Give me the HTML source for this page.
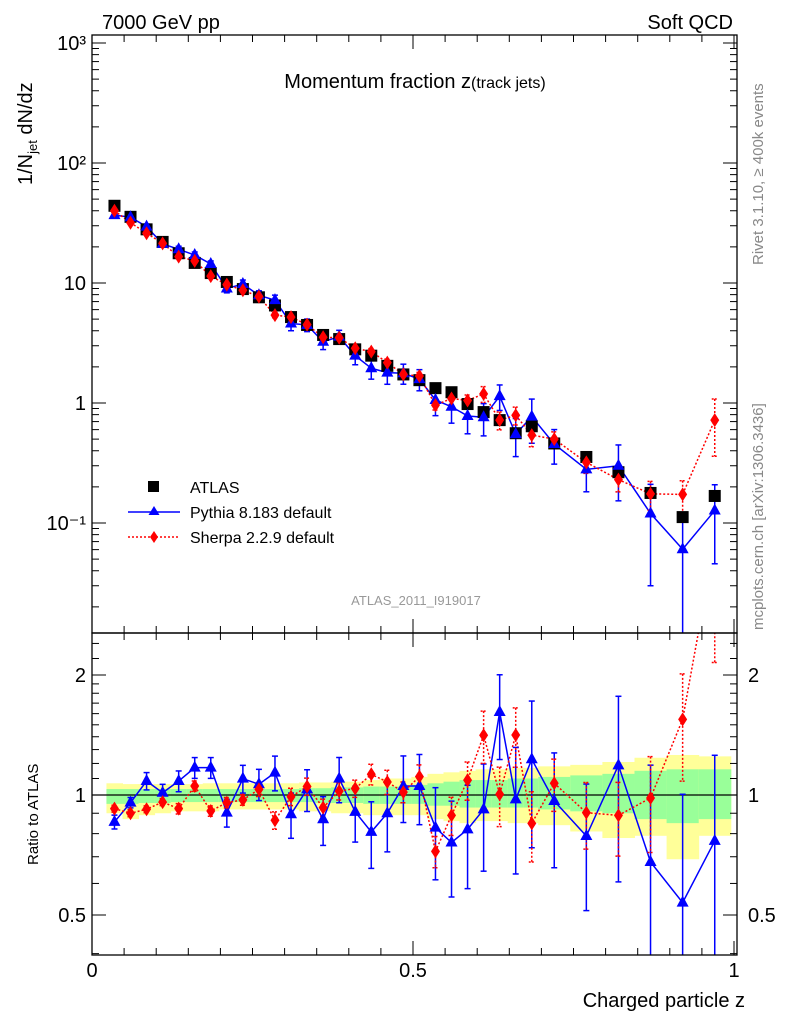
<!DOCTYPE html>
<html><head><meta charset="utf-8"><style>
html,body{margin:0;padding:0;background:#fff;width:786px;height:1024px;overflow:hidden;}
svg{display:block;font-family:"Liberation Sans","DejaVu Sans",sans-serif;}
</style></head><body>
<svg id="c" width="786" height="1024" xmlns="http://www.w3.org/2000/svg">
<defs>
<clipPath id="cm"><rect x="92" y="35" width="645" height="598"/></clipPath>
<clipPath id="cr"><rect x="92" y="633" width="645" height="322"/></clipPath>
</defs>
<g id="bands" clip-path="url(#cr)"></g>
<g id="grid"></g>
<g id="mainMarks" clip-path="url(#cm)"></g>
<g id="ratioMarks" clip-path="url(#cr)"></g>
<rect x="92" y="35" width="645" height="598" fill="none" stroke="#000" stroke-width="1.3"/>
<rect x="92" y="633" width="645" height="322" fill="none" stroke="#000" stroke-width="1.3"/>
<text x="102" y="29" font-size="20">7000 GeV pp</text>
<text x="733" y="29" font-size="20" text-anchor="end">Soft QCD</text>
<text x="415" y="88" font-size="20" text-anchor="middle">Momentum fraction z<tspan font-size="16">(track jets)</tspan></text>
<text transform="translate(32,185) rotate(-90)" font-size="20">1/N<tspan font-size="13" dy="5">jet</tspan><tspan dy="-5"> dN/dz</tspan></text>
<text transform="translate(763,265) rotate(-90)" font-size="15" fill="#888">Rivet 3.1.10, ≥ 400k events</text>
<text transform="translate(763,630) rotate(-90)" font-size="15" fill="#888">mcplots.cern.ch [arXiv:1306.3436]</text>
<text x="416" y="605" font-size="13" fill="#999" text-anchor="middle">ATLAS_2011_I919017</text>
<text transform="translate(38,865) rotate(-90)" font-size="15">Ratio to ATLAS</text>
<text x="745" y="1007" font-size="20" text-anchor="end">Charged particle z</text>
<g>
<rect x="148" y="481" width="11" height="11" fill="#000"/>
<text x="190" y="493" font-size="16">ATLAS</text>
<line x1="128" y1="512" x2="180" y2="512" stroke="#0000ff" stroke-width="1.5"/>
<polygon points="154,506 159.5,515 148.5,515" fill="#0000ff"/>
<text x="190" y="518" font-size="16">Pythia 8.183 default</text>
<line x1="128" y1="537" x2="180" y2="537" stroke="#ff0000" stroke-width="1.5" stroke-dasharray="2,2"/>
<polygon points="154,531 158,537 154,543 150,537" fill="#ff0000"/>
<text x="190" y="543" font-size="16">Sherpa 2.2.9 default</text>
</g>
</svg>
<script>
const zCenters=[0.035,0.06,0.085,0.11,0.135,0.16,0.185,0.21,0.235,0.26,0.285,0.31,0.335,0.36,0.385,0.41,0.435,0.46,0.485,0.51,0.535,0.56,0.585,0.61,0.635,0.66,0.685,0.72,0.77,0.82,0.87,0.92,0.97];
const binHalf=[0.0125,0.0125,0.0125,0.0125,0.0125,0.0125,0.0125,0.0125,0.0125,0.0125,0.0125,0.0125,0.0125,0.0125,0.0125,0.0125,0.0125,0.0125,0.0125,0.0125,0.0125,0.0125,0.0125,0.0125,0.0125,0.0125,0.0125,0.025,0.025,0.025,0.025,0.025,0.025];
const atlasVals=[44,35.6,28,22,17.7,14.7,12.1,10.2,8.9,7.6,6.5,5.2,4.47,3.69,3.41,2.8,2.48,2.04,1.73,1.55,1.33,1.23,0.98,0.84,0.72,0.56,0.64,0.46,0.355,0.265,0.178,0.112,0.168];
const pythiaVals=[36.8,35.3,29.5,21.2,19.1,17.1,14.4,9.0,9.8,7.9,7.2,4.6,4.47,3.24,3.57,2.48,1.95,1.79,1.77,1.58,1.06,0.93,0.78,0.76,1.14,0.55,0.77,0.455,0.28,0.30,0.12,0.0605,0.127];
const sherpaVals=[40,31.8,26,21.4,16.6,15.3,11.4,9.7,8.7,7.7,5.4,5.2,4.5,3.53,3.5,2.86,2.68,2.17,1.73,1.68,0.96,1.09,1.05,1.19,0.72,0.79,0.54,0.50,0.32,0.23,0.175,0.173,0.72];
const pythiaRatio=[0.856,0.957,1.084,1.013,1.084,1.171,1.171,0.903,1.099,1.064,1.138,0.895,1.033,0.869,1.099,0.907,0.808,0.9,1.053,1.053,0.828,0.76,0.82,0.92,1.615,0.975,1.229,0.966,0.789,1.187,0.679,0.537,0.767];
const pythiaErr=[0.04,0.03,0.05,0.05,0.06,0.06,0.06,0.08,0.08,0.09,0.1,0.13,0.12,0.14,0.13,0.16,0.19,0.2,0.19,0.2,0.26,0.27,0.29,0.3,0.24,0.35,0.4,0.32,0.35,0.49,0.75,0.87,0.64];
const sherpaRatio=[0.924,0.9,0.921,0.96,0.924,1.053,0.912,0.957,0.972,1.033,0.864,0.99,1.05,0.93,1.023,1.038,1.127,1.078,1.017,1.112,0.722,0.889,1.09,1.412,1.004,1.414,0.849,1.07,0.903,0.889,0.983,1.548,4.3];
const sherpaErr=[0.02,0.02,0.02,0.02,0.03,0.03,0.03,0.03,0.03,0.04,0.05,0.05,0.05,0.05,0.05,0.05,0.06,0.07,0.06,0.07,0.09,0.11,0.11,0.15,0.17,0.17,0.2,0.15,0.19,0.21,0.27,0.3,0.5];
const greenHi=[1.035,1.035,1.035,1.035,1.035,1.035,1.035,1.035,1.035,1.035,1.035,1.035,1.04,1.04,1.045,1.045,1.05,1.05,1.05,1.06,1.07,1.08,1.09,1.09,1.09,1.1,1.1,1.11,1.12,1.13,1.15,1.16,1.16];
const greenLo=[0.95,0.95,0.955,0.955,0.96,0.96,0.96,0.96,0.96,0.96,0.96,0.96,0.96,0.955,0.955,0.955,0.95,0.95,0.95,0.95,0.94,0.94,0.93,0.93,0.93,0.93,0.93,0.92,0.91,0.9,0.87,0.85,0.87];
const yellowHi=[1.07,1.065,1.065,1.065,1.065,1.065,1.07,1.07,1.07,1.07,1.07,1.07,1.075,1.075,1.08,1.08,1.09,1.1,1.1,1.11,1.13,1.14,1.15,1.16,1.16,1.17,1.17,1.18,1.19,1.21,1.24,1.26,1.25];
const yellowLo=[0.9,0.87,0.89,0.9,0.91,0.91,0.91,0.92,0.92,0.92,0.92,0.92,0.91,0.91,0.9,0.9,0.89,0.89,0.89,0.89,0.87,0.86,0.85,0.86,0.86,0.85,0.85,0.84,0.81,0.78,0.79,0.69,0.79];
const mainTickVals=[1000,100,10,1,0.1];
const mainTickLabels=["10³","10²","10","1","10⁻¹"];
const ratioTickVals=[2,1,0.5];
const ratioTickLabels=["2","1","0.5"];
const xTickVals=[0,0.5,1];
const xTickLabels=["0","0.5","1"];

const NS="http://www.w3.org/2000/svg";
const X=z=>92+z*642;
const Ym=v=>403-120*Math.log10(v);
const Yr=r=>795-120*Math.log2(r);
function mk(parent,tag,attrs){const e=document.createElementNS(NS,tag);for(const k in attrs)e.setAttribute(k,attrs[k]);parent.appendChild(e);return e;}
const grid=document.getElementById('grid');
const bands=document.getElementById('bands');
const mm=document.getElementById('mainMarks');
const rm=document.getElementById('ratioMarks');

for(let i=0;i<zCenters.length;i++){
  const x0=X(zCenters[i]-binHalf[i]),x1=X(zCenters[i]+binHalf[i]);
  const y=mk(bands,'rect',{x:x0,y:Yr(yellowHi[i]),width:x1-x0+0.5,height:Yr(yellowLo[i])-Yr(yellowHi[i]),fill:'#ffff99'});
  
  
  const g=mk(bands,'rect',{x:x0,y:Yr(greenHi[i]),width:x1-x0+0.5,height:Yr(greenLo[i])-Yr(greenHi[i]),fill:'#99ff99'});
  
  
}
const one=mk(grid,'line',{x1:92,x2:737,y1:Yr(1),y2:Yr(1),stroke:'#000','stroke-width':1.2});



for(let d=-2;d<=3;d++){
  for(let m=1;m<10;m++){
    const v=m*Math.pow(10,d);const y=Ym(v);
    if(y<35||y>633)continue;
    const L=m===1?14:7;
    mk(grid,'line',{x1:92,x2:92+L,y1:y,y2:y,stroke:'#000'});
    mk(grid,'line',{x1:737-L,x2:737,y1:y,y2:y,stroke:'#000'});
  }
}
mainTickVals.forEach((v,i)=>{
  const t=mk(grid,'text',{x:86,y:Ym(v)+7,'font-size':20,'text-anchor':'end'});
  t.textContent=mainTickLabels[i];
  
  
});
for(let r=0.4;r<=2.6;r+=0.1){
  const rr=Math.round(r*10)/10;const y=Yr(rr);
  if(y<633||y>955)continue;
  const major=(rr===0.5||rr===1||rr===2);
  const L=major?14:7;
  if(rr>2 && Math.round(rr*10)%2!==0)continue;
  mk(grid,'line',{x1:92,x2:92+L,y1:y,y2:y,stroke:'#000'});
  mk(grid,'line',{x1:737-L,x2:737,y1:y,y2:y,stroke:'#000'});
}
ratioTickVals.forEach((v,i)=>{
  const t=mk(grid,'text',{x:86,y:Yr(v)+7,'font-size':20,'text-anchor':'end'});
  t.textContent=ratioTickLabels[i];
  
  
  const t2=mk(grid,'text',{x:748,y:Yr(v)+7,'font-size':20});
  t2.textContent=ratioTickLabels[i];
  
  
});
for(let k=0;k<=20;k++){
  const z=k*0.05,x=X(z),L=(k%10===0)?14:7;
  mk(grid,'line',{x1:x,x2:x,y1:633,y2:633-L,stroke:'#000'});
  mk(grid,'line',{x1:x,x2:x,y1:35,y2:35+L,stroke:'#000'});
  mk(grid,'line',{x1:x,x2:x,y1:955,y2:955-L,stroke:'#000'});
  mk(grid,'line',{x1:x,x2:x,y1:633,y2:633+L,stroke:'#000'});
}
xTickVals.forEach((v,i)=>{
  const t=mk(grid,'text',{x:X(v),y:977,'font-size':20,'text-anchor':'middle'});
  t.textContent=xTickLabels[i];
  
  
});

function tri(p,x,y,c){return mk(p,'polygon',{points:`${x},${y-7} ${x+6},${y+4} ${x-6},${y+4}`,fill:c});}
function dia(p,x,y,c){return mk(p,'polygon',{points:`${x},${y-7} ${x+4.5},${y} ${x},${y+7} ${x-4.5},${y}`,fill:c});}
function errbar(p,x,y1,y2,c,dash){
  const a={x1:x,x2:x,y1:y1,y2:y2,stroke:c,'stroke-width':1.5};if(dash)a['stroke-dasharray']='2,2';
  mk(p,'line',a);
  const b={x1:x-3,x2:x+3,y1:y1,y2:y1,stroke:c,'stroke-width':1.5};if(dash)b['stroke-dasharray']='2,1';mk(p,'line',b);
  const d={x1:x-3,x2:x+3,y1:y2,y2:y2,stroke:c,'stroke-width':1.5};if(dash)d['stroke-dasharray']='2,1';mk(p,'line',d);
}

const pl=mk(mm,'polyline',{points:zCenters.map((z,i)=>X(z)+','+Ym(pythiaVals[i])).join(' '),fill:'none',stroke:'#0000ff','stroke-width':1.5});


const sl=mk(mm,'polyline',{points:zCenters.map((z,i)=>X(z)+','+Ym(sherpaVals[i])).join(' '),fill:'none',stroke:'#ff0000','stroke-width':1.5,'stroke-dasharray':'2,2'});


zCenters.forEach((z,i)=>{
  const x=X(z);
  const v=atlasVals[i];
  const pe=pythiaErr[i]*pythiaVals[i],se=sherpaErr[i]*sherpaVals[i];
  errbar(mm,x,Ym(pythiaVals[i]+pe),Ym(Math.max(pythiaVals[i]-pe,1e-4)),'#0000ff',false);
  errbar(mm,x,Ym(sherpaVals[i]+se),Ym(Math.max(sherpaVals[i]-se,1e-4)),'#ff0000',true);
  const s=mk(mm,'rect',{x:x-6,y:Ym(v)-6,width:12,height:12,fill:'#000'});
  
  
  const t=tri(mm,x,Ym(pythiaVals[i]),'#0000ff');
  
  
  const d=dia(mm,x,Ym(sherpaVals[i]),'#ff0000');
  
  
});

const prl=mk(rm,'polyline',{points:zCenters.map((z,i)=>X(z)+','+Yr(pythiaRatio[i])).join(' '),fill:'none',stroke:'#0000ff','stroke-width':1.5});


const srl=mk(rm,'polyline',{points:zCenters.map((z,i)=>X(z)+','+Yr(sherpaRatio[i])).join(' '),fill:'none',stroke:'#ff0000','stroke-width':1.5,'stroke-dasharray':'2,2'});


zCenters.forEach((z,i)=>{
  const x=X(z);
  const pr=pythiaRatio[i],sr=sherpaRatio[i];
  errbar(rm,x,Yr(pr*(1+pythiaErr[i])),Yr(Math.max(pr*(1-pythiaErr[i]),0.05)),'#0000ff',false);
  errbar(rm,x,Yr(sr*(1+sherpaErr[i])),Yr(Math.max(sr*(1-sherpaErr[i]),0.05)),'#ff0000',true);
  const t=tri(rm,x,Yr(pr),'#0000ff');
  
  
  const d=dia(rm,x,Yr(sr),'#ff0000');
  
  
});
</script>
</body></html>
